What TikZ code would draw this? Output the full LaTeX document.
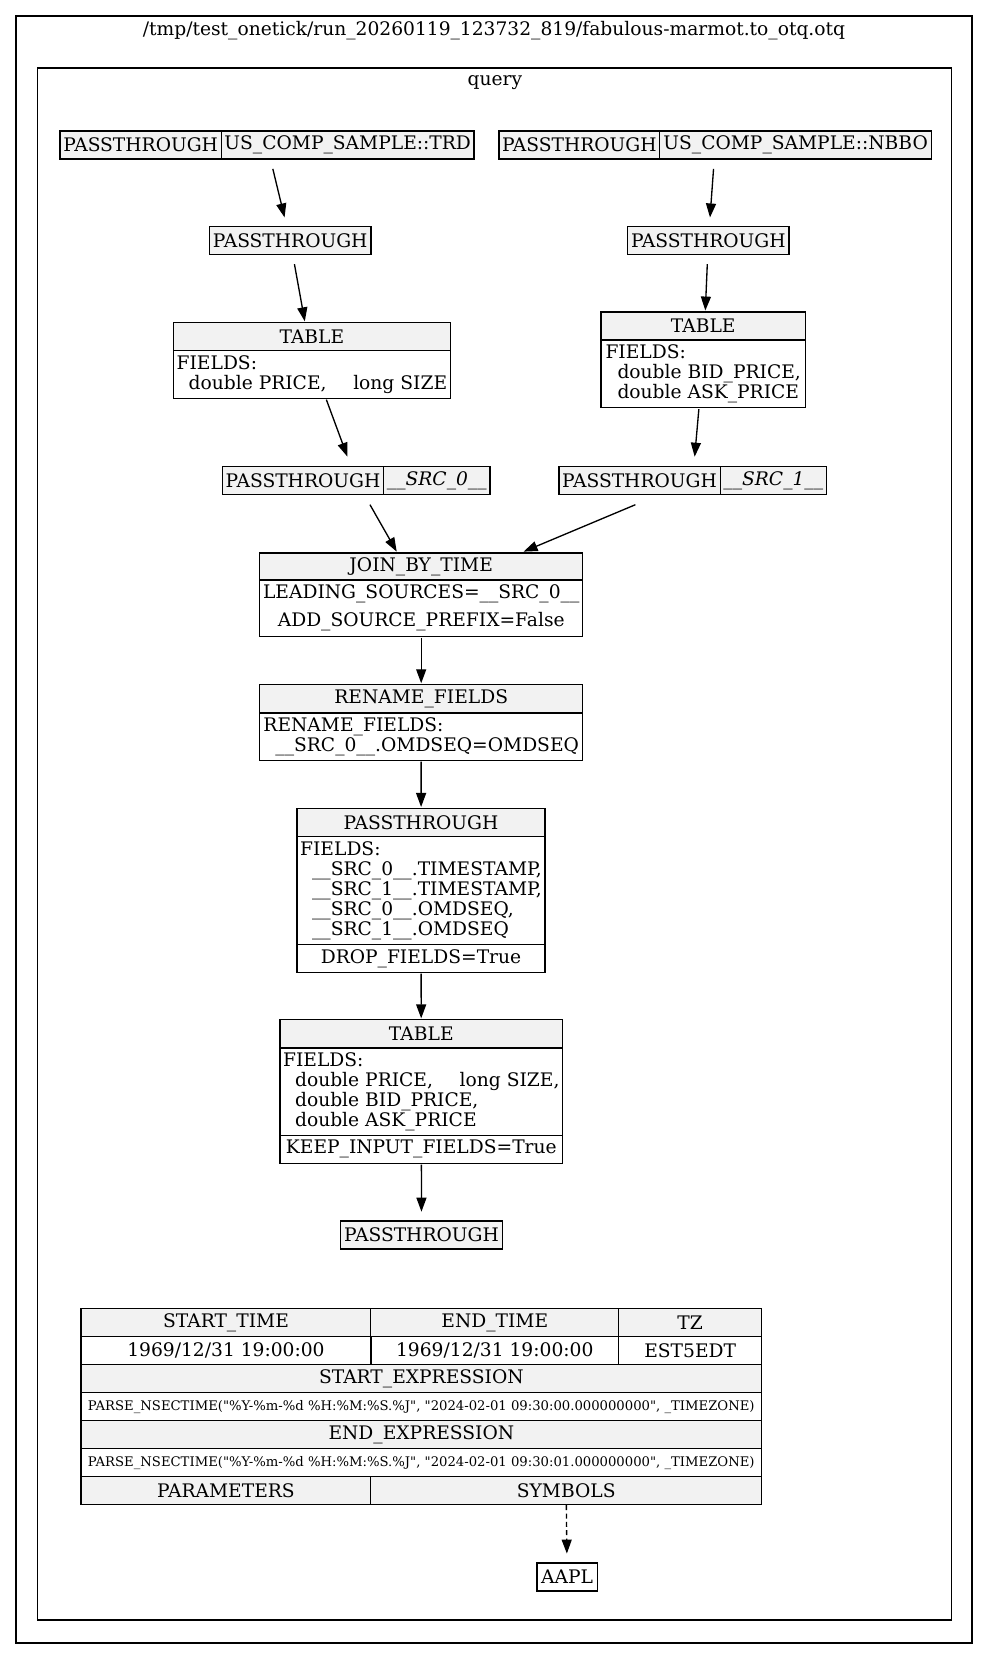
\documentclass[tikz,border=0pt]{standalone}
\usepackage{fontspec}
\setmainfont{DejaVu Serif}[Ligatures=TeXOff]
\usetikzlibrary{positioning, arrows.meta, fit}
\definecolor{hdgray}{HTML}{F2F2F2}

\begin{document}
\begin{tikzpicture}[
    x=0.75pt, y=-0.75pt,
    line width=1pt,
    every node/.style={font=\fontsize{14}{15}\selectfont, inner sep=0pt},
    cell/.style={draw, minimum height=21pt, align=center},
    hcell/.style={cell, fill=hdgray},
    bcell/.style={cell, fill=white, align=left},
    exprcell/.style={cell, font=\fontsize{9.9}{11}\selectfont},
    ptbox/.style={outer ysep=7pt},
    >={Triangle[length=10.5pt, width=7.5pt]},
  ]
  \useasboundingbox (0,0) rectangle (989,1659);

  % clusters
  \draw (16,16) rectangle (972,1643);
  \node (otqname) at (494,31) {/tmp/test\_onetick/run\_20260119\_123732\_819/fabulous-marmot.to\_otq.otq};
  \draw (37.8,68) rectangle (951.8,1620);
  \node (queryname) at (494.8,83) {query};

  % sources
  \node[hcell, minimum width=121pt] (trdop) at (140.7,144.9) {PASSTHROUGH};
  \node[hcell, minimum width=189.5pt] (trdsym) at (347.7,144.9) {US\_COMP\_SAMPLE::TRD};
  \node[fit=(trdop) (trdsym), ptbox] (trd) {};
  \node[hcell, minimum width=120.5pt] (nbboop) at (579.3,144.9) {PASSTHROUGH};
  \node[hcell, minimum width=204pt] (nbbosym) at (795.6,144.9) {US\_COMP\_SAMPLE::NBBO};
  \node[fit=(nbboop) (nbbosym), ptbox] (nbbo) {};

  \node[hcell, ptbox, minimum width=121pt] (trdpt) at (290.2,240.8) {PASSTHROUGH};
  \node[hcell, ptbox, minimum width=121pt] (nbbopt) at (708.3,240.8) {PASSTHROUGH};

  % tables
  \node[hcell, minimum width=207.7pt] (trdtabh) at (311.9,336.7) {TABLE};
  \node[bcell, minimum width=207.7pt, minimum height=35.7pt] (trdtabb) at (311.9,374.5)
    {FIELDS:\\\hspace*{9pt}double PRICE,\hspace{20pt}long SIZE};
  \node[fit=(trdtabh) (trdtabb)] (trdtab) {};
  \node[hcell, minimum width=153.3pt] (nbbotabh) at (703.2,325.9) {TABLE};
  \node[bcell, minimum width=153.3pt, minimum height=50.8pt] (nbbotabb) at (703.2,373.9)
    {FIELDS:\\\hspace*{9pt}double BID\_PRICE,\\\hspace*{9pt}double ASK\_PRICE};
  \node[fit=(nbbotabh) (nbbotabb)] (nbbotab) {};

  \node[hcell, minimum width=120.7pt] (src0op) at (303,480.7) {PASSTHROUGH};
  \node[hcell, minimum width=79.9pt] (src0sym) at (436.8,480.7) {\textit{\_\_SRC\_0\_\_}};
  \node[fit=(src0op) (src0sym), ptbox] (src0) {};
  \node[hcell, minimum width=121pt] (src1op) at (639.5,480.7) {PASSTHROUGH};
  \node[hcell, minimum width=79.4pt] (src1sym) at (773.3,480.7) {\textit{\_\_SRC\_1\_\_}};
  \node[fit=(src1op) (src1sym), ptbox] (src1) {};

  % join and after
  \node[hcell, minimum width=242.3pt, minimum height=20.3pt] (joinh) at (421.2,566.5) {JOIN\_BY\_TIME};
  \node[cell, fill=white, minimum width=242.3pt, minimum height=42.1pt,
        font=\fontsize{14}{21}\selectfont] (joinb) at (421.2,608.2)
    {LEADING\_SOURCES=\_\_SRC\_0\_\_\\ADD\_SOURCE\_PREFIX=False};
  \node[fit=(joinh) (joinb)] (join) {};

  \node[hcell, minimum width=242.3pt] (renh) at (421.2,698.6) {RENAME\_FIELDS};
  \node[bcell, minimum width=242.3pt, minimum height=35.5pt] (renb) at (421.2,736.5)
    {RENAME\_FIELDS:\\\hspace*{9pt}\_\_SRC\_0\_\_.OMDSEQ=OMDSEQ};
  \node[fit=(renh) (renb)] (ren) {};

  \node[hcell, minimum width=186pt] (droph) at (421,822.3) {PASSTHROUGH};
  \node[bcell, minimum width=186pt, minimum height=81.3pt] (dropb) at (421,890.5)
    {FIELDS:\\\hspace*{9pt}\_\_SRC\_0\_\_.TIMESTAMP,\\\hspace*{9pt}\_\_SRC\_1\_\_.TIMESTAMP,\\\hspace*{9pt}\_\_SRC\_0\_\_.OMDSEQ,\\\hspace*{9pt}\_\_SRC\_1\_\_.OMDSEQ};
  \node[cell, fill=white, minimum width=186pt, minimum height=20.6pt] (dropf) at (421,958.5) {DROP\_FIELDS=True};
  \node[fit=(droph) (dropf)] (drop) {};

  \node[hcell, minimum width=212pt] (keeph) at (421.3,1033.7) {TABLE};
  \node[bcell, minimum width=212pt, minimum height=65.4pt] (keepb) at (421.3,1091.6)
    {FIELDS:\\\hspace*{9pt}double PRICE,\hspace{20pt}long SIZE,\\\hspace*{9pt}double BID\_PRICE,\\\hspace*{9pt}double ASK\_PRICE};
  \node[cell, fill=white, minimum width=212pt] (keepf) at (421.3,1149.2) {KEEP\_INPUT\_FIELDS=True};
  \node[fit=(keeph) (keepf)] (keep) {};

  \node[hcell, ptbox, minimum width=121.4pt] (outpt) at (421.5,1235) {PASSTHROUGH};

  % query parameters
  \node[hcell, minimum width=217.3pt] (starth) at (226,1322.7) {START\_TIME};
  \node[hcell, minimum width=186pt] (endh) at (494.8,1322.7) {END\_TIME};
  \node[hcell, minimum width=107.1pt] (tzh) at (690.2,1322.7) {TZ};
  \node[cell, minimum width=217.3pt] (startv) at (226,1350.7) {1969/12/31 19:00:00};
  \node[cell, minimum width=186pt] (endv) at (494.8,1350.7) {1969/12/31 19:00:00};
  \node[cell, minimum width=107.1pt] (tzv) at (690.2,1350.7) {EST5EDT};
  \node[hcell, minimum width=510.4pt] (sexprh) at (421.35,1378.7) {START\_EXPRESSION};
  \node[exprcell, minimum width=510.4pt] (sexpr) at (421.35,1406.7)
    {PARSE\_NSECTIME("\%Y-\%m-\%d \%H:\%M:\%S.\%J", "2024-02-01 09:30:00.000000000", \_TIMEZONE)};
  \node[hcell, minimum width=510.4pt] (eexprh) at (421.35,1434.7) {END\_EXPRESSION};
  \node[exprcell, minimum width=510.4pt] (eexpr) at (421.35,1462.7)
    {PARSE\_NSECTIME("\%Y-\%m-\%d \%H:\%M:\%S.\%J", "2024-02-01 09:30:01.000000000", \_TIMEZONE)};
  \node[hcell, minimum width=217.3pt] (params) at (226,1490.5) {PARAMETERS};
  \node[hcell, minimum width=293.1pt] (symbols) at (566.2,1490.5) {SYMBOLS};
  \node[cell, ptbox, minimum width=45.2pt] (aapl) at (567.1,1576.9) {AAPL};

  \draw[->] (trd) -- (trdpt);
  \draw[->] (trdpt) -- (trdtab);
  \draw[->] (trdtab) -- (src0);
  \draw[->] (nbbo) -- (nbbopt);
  \draw[->] (nbbopt) -- (nbbotab);
  \draw[->] (nbbotab) -- (src1);
  \draw[->] (src0) -- (join);
  \draw[->] (src1) -- (join);
  \draw[->] (join) -- (ren);
  \draw[->] (ren) -- (drop);
  \draw[->] (drop) -- (keep);
  \draw[->] (keep) -- (outpt);
  \draw[->, dash pattern=on 3.75pt off 2.5pt] (symbols) -- (aapl);
\end{tikzpicture}
\end{document}
